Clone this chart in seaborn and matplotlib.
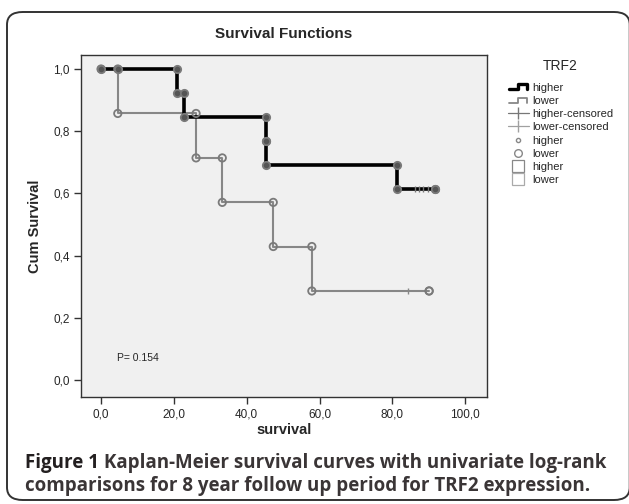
import matplotlib
matplotlib.use("Agg")
import matplotlib.pyplot as plt
import numpy as np
import pandas as pd
import seaborn as sns
from matplotlib.lines import Line2D
from matplotlib.patches import FancyBboxPatch
from matplotlib.legend_handler import HandlerBase

# Kaplan-Meier steps (time, survival after the event)
hi_time = [0.0, 20.8, 22.9, 45.2, 45.2, 81.2, 91.8]
hi_surv = [1.0, 0.923, 0.846, 0.769, 0.692, 0.615, 0.615]
hi_censor = [86.1, 87.2, 88.5, 89.9]
hi_extra = [4.6]  # censored circle on the 1.0 plateau

lo_time = [0.0, 4.6, 26.1, 33.3, 47.3, 57.9, 90.1]
lo_surv = [1.0, 0.857, 0.714, 0.571, 0.429, 0.286, 0.286]
lo_censor = [84.3]

x_ticks = [0, 20, 40, 60, 80, 100]
y_ticks = [0.0, 0.2, 0.4, 0.6, 0.8, 1.0]


def vertices(t, s):
    # corners of the step curve, where SPSS draws its circles
    xs, ys = [t[0]], [s[0]]
    for i in range(1, len(t)):
        xs += [t[i], t[i]]
        ys += [s[i - 1], s[i]]
    return xs, ys


sns.set_style("ticks")
plt.rcParams["font.family"] = ["Liberation Sans", "DejaVu Sans"]

fig = plt.figure(figsize=(6.29, 5.04), dpi=100)

# rounded frame around the figure
frame = FancyBboxPatch((7 / 629, 4 / 504), 0.99, (504 - 16) / 504, transform=fig.transFigure,
                       boxstyle="round,pad=0,rounding_size=0.025", fill=False,
                       edgecolor="#333333", linewidth=1.4, clip_on=False)
fig.patches.append(frame)

ax = fig.add_axes([81 / 629, 1 - 397 / 504, 406 / 629, 342 / 504])
ax.set_facecolor("#f0f0f0")

# lower group
sns.lineplot(x=lo_time, y=lo_surv, drawstyle="steps-post", estimator=None, sort=False,
             color="#878787", linewidth=1.5, ax=ax)
lx, ly = vertices(lo_time, lo_surv)
sns.scatterplot(x=lx, y=ly, marker="o", s=28, facecolor="none", edgecolor="#7a7a7a",
                linewidth=1.3, ax=ax, zorder=4)
sns.scatterplot(x=lo_censor, y=[lo_surv[-1]] * len(lo_censor), marker="|", s=25,
                color="#878787", linewidth=1.0, ax=ax, zorder=4)

# higher group
sns.lineplot(x=hi_time, y=hi_surv, drawstyle="steps-post", estimator=None, sort=False,
             color="black", linewidth=2.6, ax=ax, zorder=3)
hx, hy = vertices(hi_time, hi_surv)
hx += hi_extra
hy += [1.0] * len(hi_extra)
sns.scatterplot(x=hx, y=hy, marker="o", s=28, facecolor="#555555", edgecolor="#7a7a7a",
                linewidth=1.3, ax=ax, zorder=5)
sns.scatterplot(x=hi_censor, y=[hi_surv[-1]] * len(hi_censor), marker="|", s=25,
                color="#777777", linewidth=1.0, ax=ax, zorder=5)

ax.set_xlim(-5.5, 106)
ax.set_ylim(-0.055, 1.045)
ax.set_xticks(x_ticks)
ax.set_xticklabels([f"{v:.1f}".replace(".", ",") for v in x_ticks])
ax.set_yticks(y_ticks)
ax.set_yticklabels([f"{v:.1f}".replace(".", ",") for v in y_ticks])
ax.tick_params(labelsize=8.5, length=5, width=1, color="#333333", direction="out", pad=3)
for sp in ax.spines.values():
    sp.set_color("#333333")
    sp.set_linewidth(1.0)

ax.set_title("Survival Functions", fontsize=11, fontweight="bold", pad=12)
ax.set_xlabel("survival", fontsize=10.5, fontweight="bold", labelpad=2)
ax.set_ylabel("Cum Survival", fontsize=10.5, fontweight="bold", labelpad=8)
ax.text(4.4, 0.07, "P= 0.154", fontsize=7.5, va="center", ha="left")


class StepHandler(HandlerBase):
    def __init__(self, color, lw):
        super().__init__()
        self.color, self.lw = color, lw

    def create_artists(self, legend, orig_handle, xd, yd, w, h, fs, trans):
        xs = np.array([0.05, 0.5, 0.5, 0.9, 0.9]) * w - xd
        ys = np.array([0.15, 0.15, 0.8, 0.8, 0.15]) * h - yd
        return [Line2D(xs, ys, color=self.color, lw=self.lw, transform=trans)]


h_hi = Line2D([], [], color="black")
h_lo = Line2D([], [], color="#878787")
handles = [
    h_hi, h_lo,
    Line2D([], [], color="#777777", lw=0.9, marker="|", markersize=9),
    Line2D([], [], color="#a0a0a0", lw=0.9, marker="|", markersize=9),
    Line2D([], [], ls="none", marker="o", markersize=3, mfc="none", mec="#888888"),
    Line2D([], [], ls="none", marker="o", markersize=5.5, mfc="none", mec="#888888"),
    Line2D([], [], ls="none", marker="s", markersize=9, mfc="none", mec="#888888", mew=0.9),
    Line2D([], [], ls="none", marker="s", markersize=9, mfc="none", mec="#aaaaaa", mew=0.9),
]
labels = ["higher", "lower", "higher-censored", "lower-censored",
          "higher", "lower", "higher", "lower"]
leg = fig.legend(handles, labels, loc="upper left", bbox_to_anchor=(499 / 629, 1 - 50 / 504),
                 frameon=False, title="TRF2", fontsize=8, title_fontsize=10,
                 handlelength=1.9, handletextpad=0.25, labelspacing=0.29, borderpad=0.3,
                 handler_map={h_hi: StepHandler("black", 2.4), h_lo: StepHandler("#878787", 1.3)})
leg._legend_box.sep = 7

# caption
cap_font = ["Open Sans", "DejaVu Sans"]
cap_size = 13.5
y1, y2 = 1 - 463 / 504, 1 - 486 / 504
t1 = fig.text(25 / 629, y1, "Figure 1 ", fontsize=cap_size, fontweight="bold",
              family=cap_font, color="#231f20", va="center")
fig.canvas.draw()
w1 = t1.get_window_extent().width / fig.bbox.width
fig.text(25 / 629 + w1, y1, "Kaplan-Meier survival curves with univariate log-rank",
         fontsize=cap_size, fontweight="bold", family=cap_font, color="#3a3536", va="center")
fig.text(25 / 629, y2, "comparisons for 8 year follow up period for TRF2 expression.",
         fontsize=cap_size, fontweight="bold", family=cap_font, color="#3a3536", va="center")

fig.savefig("out.png", dpi=100)
